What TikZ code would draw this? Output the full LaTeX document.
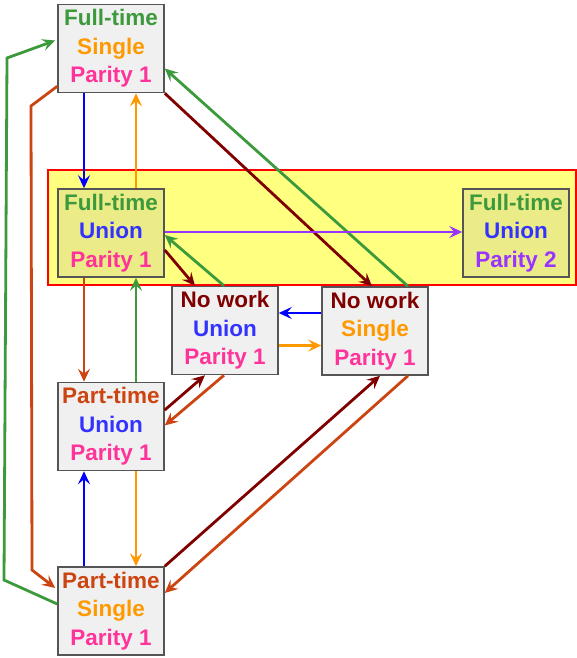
\documentclass[tikz,border=0pt]{standalone}
\usepackage{fontspec}
\setmainfont{Liberation Sans}
\usetikzlibrary{arrows.meta,calc}
\definecolor{cgreen}{HTML}{3C9A3C}
\definecolor{corange}{HTML}{FF9900}
\definecolor{cpink}{HTML}{FF3399}
\definecolor{cblue}{HTML}{3333FF}
\definecolor{cpurple}{HTML}{9933FF}
\definecolor{cdred}{HTML}{800000}
\definecolor{cpart}{HTML}{CC4411}
\definecolor{aorange}{HTML}{FF9900}
\definecolor{ablue}{HTML}{0000FF}
\definecolor{boxgray}{HTML}{F0F0F0}
\definecolor{boxyel}{HTML}{EBEB88}
\definecolor{bandyel}{HTML}{FFFF80}
\definecolor{boxline}{HTML}{555555}
\begin{document}
\begin{tikzpicture}[x=1pt,y=-1pt,
  statebox/.style={draw=boxline,line width=1.5pt,fill=boxgray,minimum width=106pt,minimum height=88pt,
    inner sep=0pt,align=center,font=\fontsize{22.5}{28.5}\selectfont\bfseries},
  unionbox/.style={statebox,fill=boxyel},
  conn/.style={line width=2.8pt,-{Stealth[length=13pt,width=12pt,inset=5pt]}},
  band/.style={draw=red,line width=2.5pt,fill=bandyel}]
\useasboundingbox (0,0) rectangle (577,658);
\node[band,minimum width=528pt,minimum height=115pt,inner sep=0pt] (band) at (312,227.5) {};
% nodes
\node[statebox] (FS) at (111,48.5) {\textcolor{cgreen}{Full-time}\\\textcolor{corange}{Single}\\\textcolor{cpink}{Parity 1}};
\node[unionbox] (FU) at (111,233) {\textcolor{cgreen}{Full-time}\\\textcolor{cblue}{Union}\\\textcolor{cpink}{Parity 1}};
\node[unionbox] (FU2) at (516,233) {\textcolor{cgreen}{Full-time}\\\textcolor{cblue}{Union}\\\textcolor{cpurple}{Parity 2}};
\node[statebox] (NU) at (225,330.5) {\textcolor{cdred}{No work}\\\textcolor{cblue}{Union}\\\textcolor{cpink}{Parity 1}};
\node[statebox] (NS) at (375,331) {\textcolor{cdred}{No work}\\\textcolor{corange}{Single}\\\textcolor{cpink}{Parity 1}};
\node[statebox] (PU) at (111,426.5) {\textcolor{cpart}{Part-time}\\\textcolor{cblue}{Union}\\\textcolor{cpink}{Parity 1}};
\node[statebox] (PS) at (111,611) {\textcolor{cpart}{Part-time}\\\textcolor{corange}{Single}\\\textcolor{cpink}{Parity 1}};
% connectors
\draw[conn,ablue] ($(FS.south)+(-27,0)$) -- ($(FU.north)+(-27,0)$);
\draw[conn,aorange] ($(FU.north)+(25,0)$) -- ($(FS.south)+(25,0)$);
\draw[conn,cdred] (FS.south east) -- ($(NS.north)+(-3,0)$);
\draw[conn,cgreen] ($(NS.north)+(33,0)$) -- ($(FS.east)+(0,20)$);
\coordinate (g1) at (4,580);
\coordinate (g2) at (7,58);
\draw[conn,cgreen] ($(PS.west)+(0,-7)$) -- (g1) -- (g2) -- ($(FS.west)+(-2,-8)$);
\coordinate (r1) at (31,106);
\coordinate (r2) at (32,570);
\draw[conn,cpart] ($(FS.south west)+(0,-7)$) -- (r1) -- (r2) -- ($(PS.west)+(-2,-23)$);
\draw[conn,cpurple] ($(FU.east)+(0,-1)$) -- ($(FU2.west)+(0,-1)$);
\draw[conn,cdred] ($(FU.east)+(0,17)$) -- ($(NU.north)+(-30,0)$);
\draw[conn,cgreen] ($(NU.north)+(-1,0)$) -- ($(FU.east)+(0,2)$);
\draw[conn,ablue] ($(NS.west)+(0,-18)$) -- ($(NU.east)+(0,-17.5)$);
\draw[conn,aorange] ($(NU.east)+(0,15)$) -- ($(NS.west)+(0,14.5)$);
\draw[conn,cpart] ($(FU.south)+(-27,0)$) -- ($(PU.north)+(-27,0)$);
\draw[conn,cgreen] ($(PU.north)+(25,0)$) -- ($(FU.south)+(25,0)$);
\draw[conn,cdred] ($(PU.east)+(0,-16.5)$) -- ($(NU.south)+(-20,0)$);
\draw[conn,cpart] ($(NU.south)+(-1,0)$) -- ($(PU.east)+(0,-1)$);
\draw[conn,ablue] ($(PS.north)+(-27,0)$) -- ($(PU.south)+(-27,0)$);
\draw[conn,aorange] ($(PU.south)+(25,0)$) -- ($(PS.north)+(25,0)$);
\draw[conn,cdred] (PS.north east) -- ($(NS.south)+(5,0)$);
\draw[conn,cpart] ($(NS.south)+(33,0)$) -- ($(PS.east)+(0,-18)$);
\end{tikzpicture}
\end{document}
